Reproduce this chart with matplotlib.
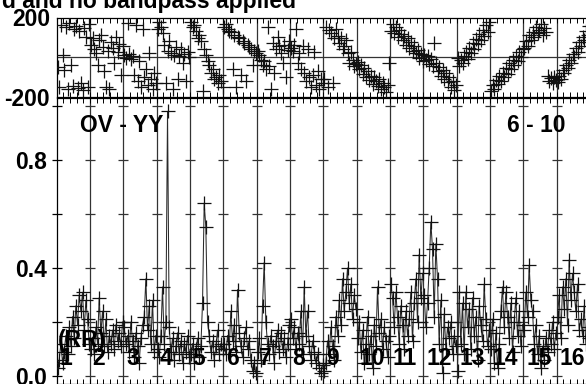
# Libs
import numpy as np
import matplotlib
matplotlib.use("Agg")
import matplotlib.pyplot as plt


# --- Data ---

baseline_label = "OV - YY"
antenna_pair = "6 - 10"
stokes_label = "(RR)"
title_text = "d and no bandpass applied"
if_labels = [str(i) for i in range(1, 17)]

# Amplitude per IF (20 channels each)
amp_if = [
    [0.03, 0.06, 0.12, 0.05, 0.09, 0.15, 0.08, 0.18, 0.11, 0.22, 0.14, 0.26, 0.19, 0.30, 0.24, 0.31, 0.17, 0.28, 0.21, 0.12],
    [0.10, 0.14, 0.08, 0.18, 0.12, 0.29, 0.16, 0.24, 0.11, 0.21, 0.09, 0.15, 0.12, 0.17, 0.10, 0.19, 0.13, 0.16, 0.11, 0.20],
    [0.18, 0.12, 0.15, 0.09, 0.20, 0.13, 0.07, 0.16, 0.11, 0.05, 0.14, 0.19, 0.22, 0.36, 0.17, 0.26, 0.12, 0.28, 0.09, 0.15],
    [0.10, 0.07, 0.15, 0.33, 0.12, 0.20, 0.98, 0.18, 0.09, 0.14, 0.06, 0.11, 0.16, 0.08, 0.13, 0.05, 0.12, 0.09, 0.15, 0.07],
    [0.08, 0.12, 0.05, 0.10, 0.14, 0.07, 0.11, 0.27, 0.64, 0.55, 0.20, 0.15, 0.09, 0.13, 0.06, 0.11, 0.17, 0.08, 0.12, 0.10],
    [0.12, 0.08, 0.15, 0.10, 0.24, 0.13, 0.19, 0.09, 0.32, 0.16, 0.11, 0.07, 0.14, 0.18, 0.10, 0.13, 0.06, 0.02, 0.05, 0.01],
    [0.09, 0.14, 0.06, 0.26, 0.42, 0.20, 0.12, 0.08, 0.15, 0.11, 0.05, 0.13, 0.17, 0.09, 0.16, 0.10, 0.14, 0.07, 0.12, 0.19],
    [0.21, 0.14, 0.18, 0.10, 0.16, 0.12, 0.24, 0.08, 0.33, 0.15, 0.24, 0.11, 0.06, 0.13, 0.09, 0.05, 0.08, 0.03, 0.01, 0.04],
    [0.02, 0.05, 0.13, 0.08, 0.18, 0.11, 0.06, 0.22, 0.15, 0.28, 0.19, 0.36, 0.24, 0.31, 0.40, 0.27, 0.34, 0.21, 0.30, 0.25],
    [0.14, 0.20, 0.09, 0.17, 0.05, 0.12, 0.22, 0.08, 0.15, 0.03, 0.19, 0.11, 0.33, 0.16, 0.21, 0.10, 0.18, 0.13, 0.07, 0.15],
    [0.34, 0.29, 0.18, 0.31, 0.22, 0.12, 0.26, 0.19, 0.10, 0.24, 0.15, 0.21, 0.31, 0.13, 0.27, 0.36, 0.20, 0.45, 0.29, 0.38],
    [0.30, 0.18, 0.27, 0.40, 0.57, 0.47, 0.22, 0.49, 0.36, 0.12, 0.28, 0.01, 0.23, 0.10, 0.18, 0.14, 0.20, 0.08, 0.15, 0.11],
    [0.02, 0.31, 0.12, 0.27, 0.08, 0.31, 0.18, 0.25, 0.10, 0.29, 0.15, 0.22, 0.06, 0.26, 0.19, 0.13, 0.34, 0.21, 0.11, 0.17],
    [0.10, 0.21, 0.05, 0.16, 0.03, 0.12, 0.24, 0.33, 0.18, 0.31, 0.22, 0.14, 0.27, 0.09, 0.20, 0.29, 0.15, 0.24, 0.11, 0.19],
    [0.17, 0.31, 0.22, 0.41, 0.28, 0.24, 0.12, 0.19, 0.08, 0.15, 0.03, 0.11, 0.06, 0.14, 0.09, 0.17, 0.12, 0.20, 0.10, 0.16],
    [0.22, 0.30, 0.14, 0.33, 0.25, 0.36, 0.19, 0.43, 0.28, 0.38, 0.31, 0.24, 0.34, 0.17, 0.21, 0.15, 0.26, 0.12, 0.18, 0.14],
]

# Phase per IF in degrees (20 channels each)
phase_if = [
    [-50, -150, 160, 10, -65, 150, -160, 170, -40, -145, 140, 155, -155, 130, -130, -165, 145, 100, -150, 165],
    [60, 95, 40, 20, -40, 85, 110, 50, -70, -150, 30, -160, 75, 45, -30, 100, 25, 65, -90, 55],
    [10, -5, 170, 15, -10, 5, -90, 160, -120, -20, -150, 140, -100, -60, -140, 20, -110, -160, -80, -130],
    [140, 175, 150, 120, 60, -130, 30, 80, 20, -160, 10, 50, -110, 5, 40, -30, 15, -120, 25, 0],
    [175, 150, 160, 130, 95, 110, 80, -170, 40, 10, -20, -40, -80, -60, -110, -100, -130, -90, -120, -150],
    [150, 165, 140, 130, 125, -60, 110, -150, 100, 95, -90, 80, 70, -120, 60, 50, 40, -40, 30, 20],
    [30, 10, -15, -40, -20, -60, 150, -45, -160, 70, -80, 40, 100, 55, 20, -30, 60, -100, 35, 80],
    [45, 30, 60, 140, -30, 20, -60, 55, -80, -120, 40, -100, -150, -90, 25, -140, -70, -160, -110, -130],
    [-110, 150, -150, 135, 120, -130, 95, 140, 105, 70, 95, 40, 55, 85, 20, -30, 25, -15, -45, -35],
    [-25, -60, -40, -85, -55, -100, -70, -115, -95, -135, -100, -120, -145, -110, -160, -130, -150, -175, -140, -30],
    [130, 165, 120, 150, 100, 135, 115, 85, 105, 60, 95, 45, 75, 30, 55, 20, 35, -5, 15, -20],
    [10, -15, 5, -35, -10, -45, 70, -30, -70, -50, -95, -65, -110, -80, -125, -100, -150, -120, -165, -140],
    [-5, -45, -15, -30, 5, 25, -10, 45, 20, 70, 40, 90, 65, 115, 85, 135, 105, 160, 125, 175],
    [-170, -140, -160, -115, -135, -95, -120, -80, -100, -55, -85, -30, -60, -15, -40, 5, -20, 25, 0, 40],
    [45, 80, 55, 110, 85, 125, 100, 150, 120, 135, 165, 110, 145, 125, -95, -120, -105, -130, -100, -115],
    [-125, -95, -110, -65, -80, -40, -55, -15, -30, 15, 0, 45, 25, 75, 55, 100, 85, 130, 110, 155],
]

amp_ticks = [0.0, 0.2, 0.4, 0.6, 0.8, 1.0]
amp_tick_labels = ["0.0", "", "0.4", "", "0.8", ""]
phase_ticks = [-200, 200]
phase_tick_labels = ["-200", "200"]


# --- Figure setup ---

W, H = 586, 384
plt.rcParams["font.family"] = ["Liberation Sans", "DejaVu Sans"]
plt.rcParams["font.weight"] = "bold"
FS = 16.5
MS = 9.5        # cross marker size
MEW = 0.9

fig = plt.figure(figsize=(W / 100, H / 100), dpi=100)

# pixel boxes -> figure fractions (plot runs slightly past right edge like the original)
x0, x1 = 56.7, 590.0
ax_ph = fig.add_axes([x0 / W, 1 - 97 / H, (x1 - x0) / W, 79.5 / H])
ax_amp = fig.add_axes([x0 / W, 0, (x1 - x0) / W, 286 / H])

n_if = len(amp_if)
n_ch = len(amp_if[0])


def chan_x(k, n):
    return k + (np.arange(n) + 0.5) / n


# Common IF-box decoration
def style_axis(ax):
    ax.set_xlim(0, n_if)
    for k in range(1, n_if):
        ax.axvline(k, color="#333333", lw=0.9, zorder=1)
    ax.set_xticks(np.arange(0, n_if + 0.01, 0.2), minor=True)
    ax.set_xticks([])
    ax.tick_params(axis="x", which="minor", direction="in", length=3.5, width=0.7,
                   top=True, bottom=True, labelbottom=False)
    for s in ax.spines.values():
        s.set_linewidth(0.9)


# --- Phase panel ---

style_axis(ax_ph)
ax_ph.set_ylim(-200, 200)
ax_ph.axhline(0, color="#333333", lw=0.9, zorder=1)
for k in range(n_if):
    ax_ph.plot(chan_x(k, n_ch), phase_if[k], "+", color="#111111",
               markersize=MS, markeredgewidth=MEW, zorder=3)
ax_ph.set_yticks(phase_ticks)
ax_ph.set_yticklabels(phase_tick_labels, fontsize=FS, fontweight="bold")
ax_ph.tick_params(axis="y", length=0, pad=4.8)

# --- Amplitude panel ---

style_axis(ax_amp)
ax_amp.set_ylim(-0.0296, 1.0296)
for k in range(n_if):
    ax_amp.plot(chan_x(k, n_ch), amp_if[k], "-", color="#2a2a2a", lw=0.75, zorder=2)
    ax_amp.plot(chan_x(k, n_ch), amp_if[k], "+", color="#111111",
                markersize=MS, markeredgewidth=MEW, zorder=3)

# tick crosses on every IF separator
for k in range(1, n_if):
    ax_amp.plot([k] * len(amp_ticks), amp_ticks, "_", color="#333333",
                markersize=7, markeredgewidth=0.9, zorder=1)

ax_amp.set_yticks(amp_ticks)
ax_amp.set_yticklabels(amp_tick_labels, fontsize=FS, fontweight="bold")
ax_amp.tick_params(axis="y", direction="inout", length=7, width=0.9, pad=3.5)

# --- Labels ---

ax_amp.text(0.7, 0.904, baseline_label, fontsize=FS, fontweight="bold",
            ha="left", va="baseline", zorder=5)
ax_amp.text(13.5, 0.904, antenna_pair, fontsize=FS, fontweight="bold",
            ha="left", va="baseline", zorder=5)
ax_amp.text(0.04, 0.107, stokes_label, fontsize=FS, fontweight="bold",
            ha="left", va="baseline", zorder=5)
for k, lab in enumerate(if_labels):
    ax_amp.text(k + 0.08, 0.041, lab, fontsize=FS, fontweight="bold",
                ha="left", va="baseline", zorder=5)

fig.text(296.5 / W, 1 - 8 / H, title_text, fontsize=FS, fontweight="bold",
         ha="right", va="baseline")

plt.savefig("out.png", dpi=100)
plt.close(fig)
